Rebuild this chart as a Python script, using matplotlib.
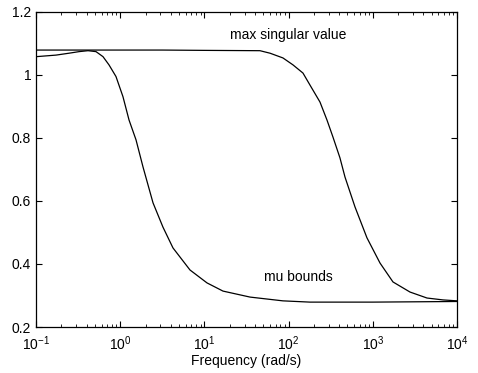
import matplotlib.pyplot as plt
import numpy as np

plt.rcParams['font.family'] = ['Liberation Sans', 'DejaVu Sans']

# values (log10 of frequency, magnitude)
mu_logw = [-1.0, -0.762, -0.608, -0.489, -0.382, -0.287, -0.204, -0.133, -0.05,
           0.033, 0.105, 0.188, 0.271, 0.39, 0.508, 0.627, 0.829, 1.031, 1.221,
           1.542, 1.933, 2.254, 3.0, 3.5, 4.0]
mu_val = [1.058, 1.063, 1.069, 1.074, 1.077, 1.074, 1.058, 1.032, 0.995,
          0.931, 0.857, 0.794, 0.708, 0.594, 0.517, 0.451, 0.381, 0.34, 0.314,
          0.295, 0.283, 0.279, 0.279, 0.28, 0.281]

sv_logw = [-1.0, 0.5, 1.0, 1.66, 1.78, 1.933, 2.052, 2.171, 2.254, 2.373, 2.456,
           2.527, 2.61, 2.67, 2.789, 2.931, 3.086, 3.24, 3.442, 3.644, 3.834, 4.0]
sv_val = [1.079, 1.079, 1.078, 1.077, 1.069, 1.054, 1.032, 1.006, 0.968, 0.914, 0.857,
          0.803, 0.737, 0.676, 0.581, 0.483, 0.403, 0.343, 0.311, 0.292, 0.286, 0.283]

fig = plt.figure(figsize=(4.78, 3.73), dpi=100)
ax = fig.add_axes([0.0753, 0.1233, 0.8807, 0.8447])

ax.semilogx(10 ** np.array(sv_logw), sv_val, color='black', lw=0.9)
ax.semilogx(10 ** np.array(mu_logw), mu_val, color='black', lw=0.9)

ax.set_xlim(1e-1, 1e4)
ax.set_ylim(0.2, 1.2)
ax.set_yticks([0.2, 0.4, 0.6, 0.8, 1.0, 1.2])
ax.set_yticklabels(['0.2', '0.4', '0.6', '0.8', '1', '1.2'])
ax.tick_params(which='both', direction='in', top=True, right=True, labelsize=10)
ax.tick_params(which='major', length=4, width=0.8)
ax.tick_params(which='minor', length=2, width=0.6)
ax.tick_params(axis='x', pad=5)
ax.set_xlabel('Frequency (rad/s)', fontsize=10, labelpad=1)

ax.text(100, 1.127, 'max singular value', ha='center', va='center', fontsize=10)
ax.text(130, 0.36, 'mu bounds', ha='center', va='center', fontsize=10)

for s in ax.spines.values():
    s.set_linewidth(0.9)

fig.savefig('out.png', dpi=100)
